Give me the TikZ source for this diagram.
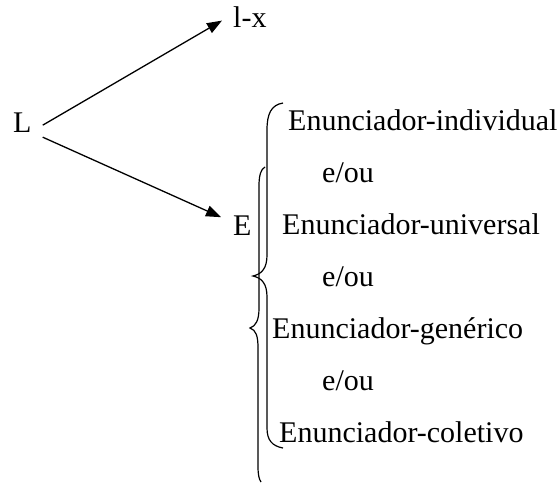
\documentclass[tikz,border=0pt]{standalone}
\usepackage{fontspec}
\setmainfont{Liberation Serif}
\usetikzlibrary{arrows.meta}
\tikzset{
  lbl/.style={font=\fontsize{30}{36}\selectfont, inner sep=0pt, anchor=base west},
  arr/.style={line width=1.3pt, -{Triangle[length=15pt,width=11pt]}},
  bracepath/.style={line width=1.2pt},
}
\begin{document}
\begin{tikzpicture}[x=1pt,y=-1pt]
\useasboundingbox (0,0) rectangle (559,482);
\node[lbl] (L) at (13,132) {L};
\node[lbl] (lx) at (233,27) {l-x};
\node[lbl] (E) at (233,235) {E};
\node[lbl] (ind) at (288,130) {Enunciador-individual};
\node[lbl] (o1) at (322,182) {e/ou};
\node[lbl] (uni) at (282,234) {Enunciador-universal};
\node[lbl] (o2) at (322,286) {e/ou};
\node[lbl] (gen) at (272,338) {Enunciador-genérico};
\node[lbl] (o3) at (322,390) {e/ou};
\node[lbl] (col) at (279,442) {Enunciador-coletivo};
\draw[arr] ([shift={(11,3)}]L.east) -- ([shift={(-11,4)}]lx.west);
\draw[arr] ([shift={(11,15)}]L.east) -- ([shift={(-12,-8)}]E.west);
% brace A
\draw[bracepath] (283,103) .. controls (271,105) and (267,114) .. (267,130)
  -- (267,255) .. controls (267,268) and (262,274) .. (253,276)
  .. controls (262,278) and (267,284) .. (267,297)
  -- (267,428) .. controls (267,440) and (272,446) .. (283,448);
% brace B
\draw[bracepath] (265,167) .. controls (261,169) and (259,175) .. (259,186)
  -- (259,308) .. controls (259,320) and (256,326) .. (250,328)
  .. controls (256,330) and (258,336) .. (258,348)
  -- (258,466) .. controls (258,475) and (259,479) .. (261,482);
\end{tikzpicture}
\end{document}
